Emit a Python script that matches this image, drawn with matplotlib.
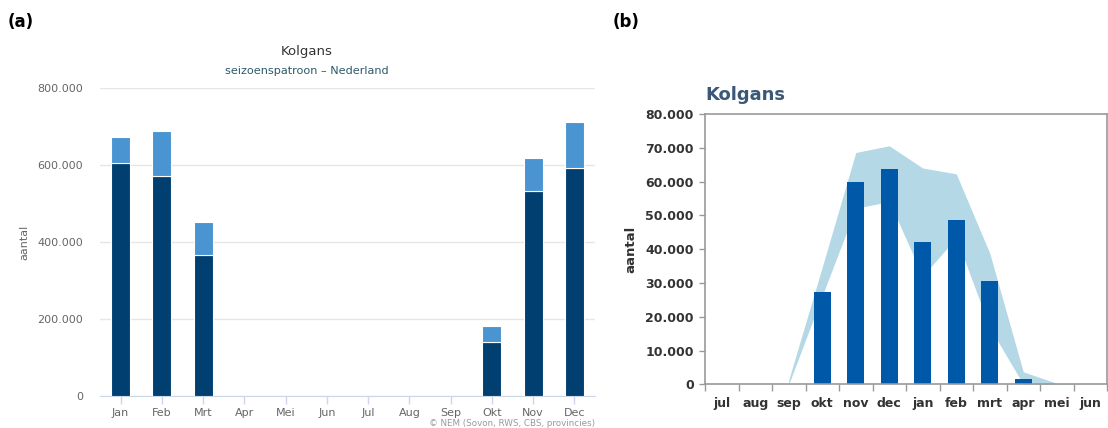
import numpy as np
import matplotlib
matplotlib.use('Agg')
import matplotlib.pyplot as plt
from matplotlib.ticker import FuncFormatter, FixedLocator

# (a) seizoenspatroon Nederland, kalendermaanden
maanden_a = ['Jan', 'Feb', 'Mrt', 'Apr', 'Mei', 'Jun', 'Jul', 'Aug', 'Sep', 'Okt', 'Nov', 'Dec']
basis_a = [604000, 571000, 367000, 0, 0, 0, 0, 0, 0, 140000, 532000, 593000]
totaal_a = [673000, 688000, 452000, 0, 0, 0, 0, 0, 0, 183000, 618000, 711000]

# (b) seizoen juli-juni, staven plus bandbreedte
maanden_b = ['jul', 'aug', 'sep', 'okt', 'nov', 'dec', 'jan', 'feb', 'mrt', 'apr', 'mei', 'jun']
aantal_b = [0, 0, 0, 27300, 59900, 63700, 42100, 48700, 30600, 1600, 0, 0]
band_hoog = [np.nan, np.nan, 1300, 34700, 68600, 70600, 64000, 62300, 38800, 3700, 300, 0]
band_laag = [np.nan, np.nan, 0, 26200, 52100, 54100, 32000, 43400, 16800, 0, 0, 0]


def punt_duizend(v, pos):
    if v == 0:
        return '0'
    return f'{int(v):,}'.replace(',', '.')


fig = plt.figure(figsize=(11.08, 4.28), dpi=100)
W, H = 1108, 428

# ---- paneel (a) ----
ax1 = fig.add_axes([100 / W, 1 - 396 / H, 495 / W, 308 / H])
x = np.arange(len(maanden_a))
boven = np.array(totaal_a) - np.array(basis_a)
ax1.bar(x, basis_a, width=0.46, color='#003f6f', edgecolor='white', linewidth=0.8, zorder=3)
ax1.bar(x, boven, bottom=basis_a, width=0.46, color='#4a94d2', edgecolor='white', linewidth=0.8, zorder=3)
ax1.set_xlim(-0.5, 11.5)
ax1.set_ylim(0, 800000)
ax1.set_yticks([0, 200000, 400000, 600000, 800000])
ax1.yaxis.set_major_formatter(FuncFormatter(punt_duizend))
ax1.grid(axis='y', color='#e6e6e6', linewidth=1, zorder=0)
for s in ['top', 'right', 'left']:
    ax1.spines[s].set_visible(False)
ax1.spines['bottom'].set_color('#ccd6eb')
ax1.set_xticks(x)
ax1.set_xticklabels(maanden_a)
ax1.tick_params(axis='x', colors='#ccd6eb', length=6, width=1, labelcolor='#666666', labelsize=8, pad=3)
ax1.tick_params(axis='y', length=0, labelcolor='#666666', labelsize=8, pad=12)
ax1.set_ylabel('aantal', color='#666666', fontsize=8, labelpad=6)

fig.text(307 / W, 1 - 52 / H, 'Kolgans', ha='center', va='center', fontsize=9.5, color='#333333')
fig.text(307 / W, 1 - 71 / H, 'seizoenspatroon \u2013 Nederland', ha='center', va='center',
         fontsize=8.1, color='#2b5a6b')
fig.text(595 / W, 1 - 424 / H, '\u00a9 NEM (Sovon, RWS, CBS, provincies)', ha='right', va='center',
         fontsize=6.3, color='#999999')

# ---- paneel (b) ----
ax2 = fig.add_axes([705 / W, 1 - 384.3 / H, 402 / W, 270.3 / H])
xb = np.arange(len(maanden_b))
ax2.fill_between(xb, band_laag, band_hoog, color='#b4d8e5', linewidth=0, zorder=1)
ax2.bar(xb, aantal_b, width=0.5, color='#0058a8', zorder=2)
ax2.set_xlim(-0.5, 11.5)
ax2.set_ylim(0, 80000)
ax2.set_yticks(np.arange(0, 80001, 10000))
ax2.yaxis.set_major_formatter(FuncFormatter(punt_duizend))
for s in ax2.spines.values():
    s.set_color('#999999')
    s.set_linewidth(1.2)
ax2.set_xticks(xb)
ax2.set_xticklabels(maanden_b, fontweight='bold')
ax2.xaxis.set_minor_locator(FixedLocator(np.arange(-0.5, 12, 1)))
ax2.tick_params(axis='x', which='major', length=0, labelsize=9, labelcolor='#333333', pad=9)
ax2.tick_params(axis='x', which='minor', length=5, width=1, color='#999999', direction='out')
ax2.tick_params(axis='y', length=4, width=1, color='#999999', labelsize=9, labelcolor='#333333', pad=4)
for lbl in ax2.get_yticklabels():
    lbl.set_fontweight('bold')
ax2.set_ylabel('aantal', fontsize=9.5, fontweight='bold', color='#333333', labelpad=6)

fig.text(705 / W, 1 - 95 / H, 'Kolgans', ha='left', va='center', fontsize=13, fontweight='bold',
         color='#3b5878')

# paneelletters
fig.text(8 / W, 1 - 22 / H, '(a)', ha='left', va='center', fontsize=12, fontweight='bold', color='black')
fig.text(613 / W, 1 - 22 / H, '(b)', ha='left', va='center', fontsize=12, fontweight='bold', color='black')

fig.savefig('out.png', dpi=100)
plt.close(fig)
